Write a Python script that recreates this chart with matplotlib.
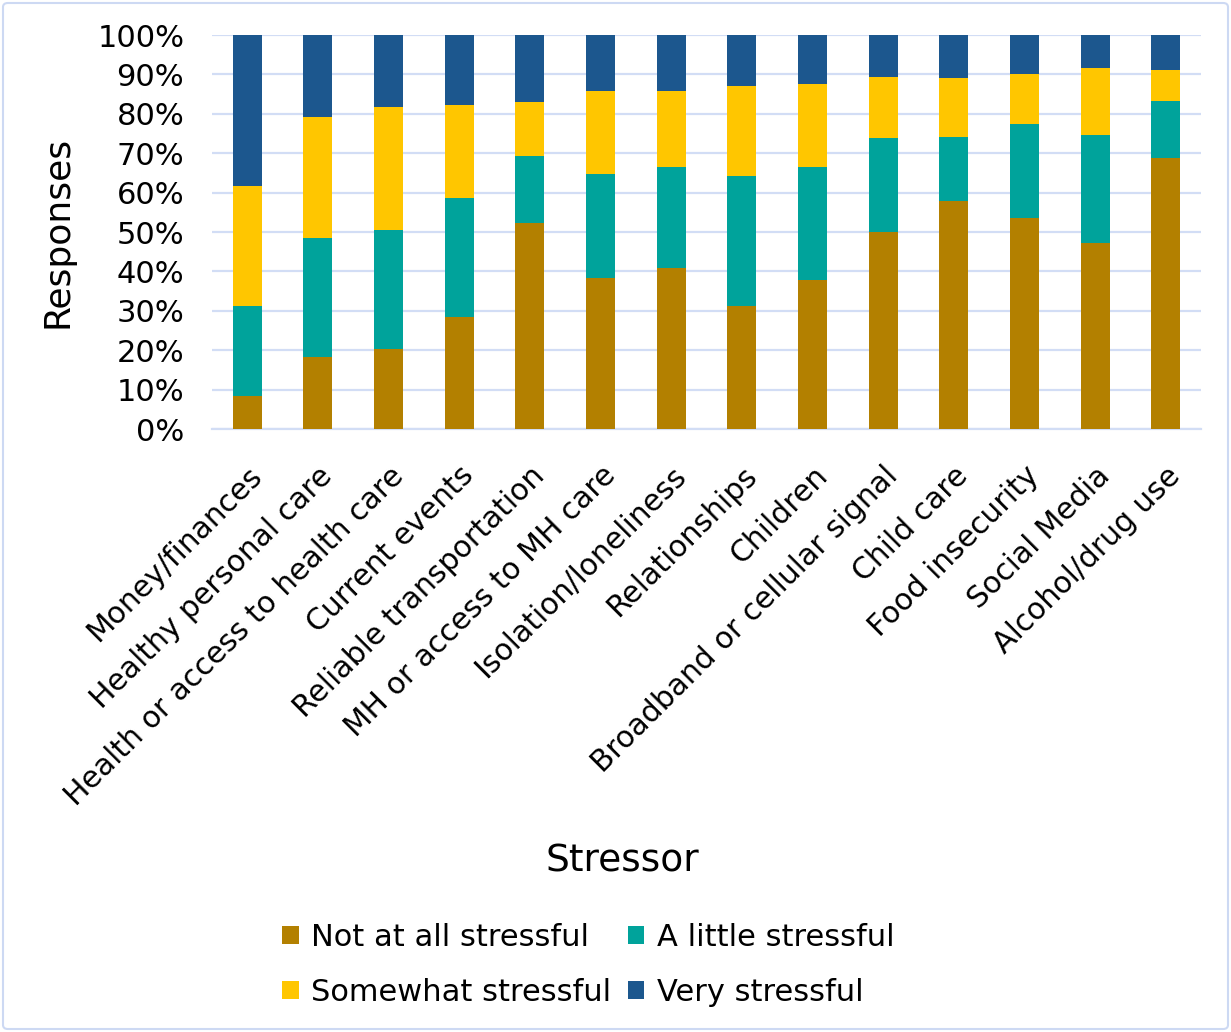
import matplotlib
matplotlib.use("Agg")
import matplotlib.pyplot as plt
from matplotlib.patches import FancyBboxPatch
from matplotlib.ticker import PercentFormatter
import numpy as np

stressors = [
    "Money/finances",
    "Healthy personal care",
    "Health or access to health care",
    "Current events",
    "Reliable transportation",
    "MH or access to MH care",
    "Isolation/loneliness",
    "Relationships",
    "Children",
    "Broadband or cellular signal",
    "Child care",
    "Food insecurity",
    "Social Media",
    "Alcohol/drug use",
]

not_at_all = [8.5, 18.2, 20.4, 28.3, 52.3, 38.3, 40.9, 31.2, 37.9, 50.1, 57.8, 53.5, 47.1, 68.7]
a_little = [22.7, 30.4, 30.1, 30.3, 17.1, 26.3, 25.5, 33.0, 28.5, 23.7, 16.4, 24.0, 27.4, 14.5]
somewhat = [30.4, 30.7, 31.1, 23.7, 13.7, 21.1, 19.3, 22.9, 21.2, 15.5, 14.8, 12.6, 17.1, 8.0]
very = [38.4, 20.7, 18.4, 17.7, 16.9, 14.3, 14.3, 12.9, 12.4, 10.7, 11.0, 9.9, 8.4, 8.8]

series_names = ["Not at all stressful", "A little stressful",
                "Somewhat stressful", "Very stressful"]
series_values = [not_at_all, a_little, somewhat, very]
series_colors = ["#B38000", "#00A39B", "#FFC600", "#1C578E"]

y_ticks = list(range(0, 101, 10))

plt.rcParams["font.family"] = ["DejaVu Sans"]

fig = plt.figure(figsize=(12.31, 10.32), dpi=100)
ax = fig.add_axes([212 / 1231, 1 - 429 / 1032, (1201 - 212) / 1231, (429 - 35) / 1032])

x = np.arange(len(stressors))
bottom = np.zeros(len(stressors))
handles = []
for name, vals, col in zip(series_names, series_values, series_colors):
    vals = np.asarray(vals, dtype=float)
    bars = ax.bar(x, vals, width=0.41, bottom=bottom, color=col,
                  label=name, zorder=3, linewidth=0)
    handles.append(bars)
    bottom += vals

ax.set_xlim(-0.5, len(stressors) - 0.5)
ax.set_ylim(0, 100)
ax.set_yticks(y_ticks)
ax.yaxis.set_major_formatter(PercentFormatter(decimals=0))
ax.grid(axis="y", color="#D2DDF5", linewidth=1.6, zorder=0)
ax.set_axisbelow(True)

for side in ["top", "right", "left"]:
    ax.spines[side].set_visible(False)
ax.spines["bottom"].set_color("#D2DDF5")
ax.spines["bottom"].set_linewidth(1.6)

ax.tick_params(axis="y", length=0, pad=20, labelsize=22)
ax.tick_params(axis="x", length=0, pad=23, labelsize=21.5)
ax.set_xticks(x)
ax.set_xticklabels(stressors, rotation=45, ha="right", va="top",
                   rotation_mode="anchor")

fig.text(57 / 1231, 1 - 232 / 1032, "Responses", rotation=90,
         ha="center", va="center", fontsize=26)
fig.text(622 / 1231, 1 - 862 / 1032, "Stressor",
         ha="center", va="center", fontsize=27)

order = [0, 2, 1, 3]
fig.legend([handles[i] for i in order], [series_names[i] for i in order],
           ncol=2, loc="center", bbox_to_anchor=(588 / 1231, 1 - 965 / 1032),
           frameon=False, fontsize=22, handlelength=0.55, handleheight=0.55,
           handletextpad=0.4, columnspacing=0.55, labelspacing=0.85,
           borderpad=0)

border = FancyBboxPatch((3 / 1231, 3 / 1032), 1 - 6 / 1231, 1 - 6 / 1032,
                        boxstyle="round,pad=0,rounding_size=0.004",
                        transform=fig.transFigure, facecolor="none",
                        edgecolor="#CDD9F3", linewidth=1.5)
fig.patches.append(border)

fig.savefig("out.png", dpi=100, facecolor="white")
